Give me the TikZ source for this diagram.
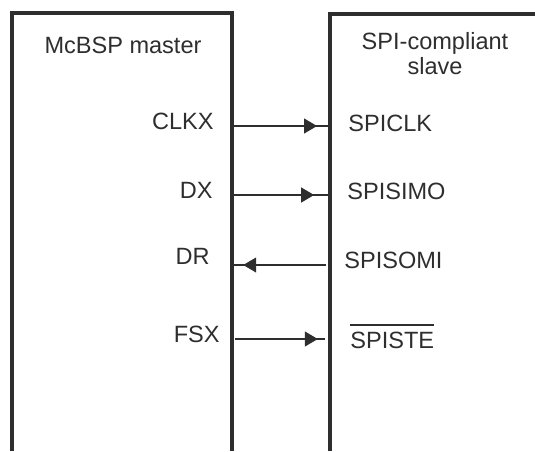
\documentclass[tikz,border=0pt]{standalone}
\usepackage{fontspec}
\setmainfont{Liberation Sans}
\usetikzlibrary{arrows.meta,decorations.markings}

\definecolor{inkgray}{HTML}{2E2E2E}

% text with a bar over it (active-low signal)
\newcommand{\activelow}[1]{\leavevmode\vbox{\hrule height 0.85pt\kern 3.6pt\hbox{#1}}}

\begin{document}
\begin{tikzpicture}[
    x=0.02cm, y=-0.02cm,
    every node/.style={
        font=\fontsize{13.4}{14.2}\selectfont,
        text=inkgray,
        inner sep=0pt,
        align=center
    },
    device/.style={
        draw=inkgray,
        line width=0.068cm,
        line join=miter
    },
    pin/.style={},
    wire/.style={
        draw=inkgray,
        line width=0.65pt
    },
    tipat/.style={
        postaction={decorate},
        decoration={
            markings,
            mark=at position #1 with {\arrow{Triangle[length=0.26cm,width=0.3cm]}}
        }
    }
]

\useasboundingbox (0,0) rectangle (535,451);

% ============================================================
% Devices
% ============================================================

\coordinate (mstBL) at (12,451);
\coordinate (mstTL) at (12,13);
\coordinate (mstTR) at (232,13);
\coordinate (mstBR) at (232,451);

\draw[device] (mstBL) -- (mstTL) -- (mstTR) -- (mstBR);

\coordinate (slvBL) at (330,451);
\coordinate (slvTL) at (330,14);
\coordinate (slvTR) at (536,14);

\draw[device] (slvBL) -- (slvTL) -- (slvTR);

\node (master) at (123,45) {McBSP master};

\node (slave) at (435,53.5) {SPI-compliant\\slave};

% ============================================================
% Pins
% ============================================================

\node[pin, anchor=east] (clkx) at (214,121.5) {CLKX};
\node[pin, anchor=east] (dx)   at (213,190)   {DX};
\node[pin, anchor=east] (dr)   at (210,256.5) {DR};
\node[pin, anchor=east] (fsx)  at (220,334)   {FSX};

\node[pin, anchor=west] (spiclk)  at (348,123)   {SPICLK};
\node[pin, anchor=west] (spisimo) at (347,191.5) {SPISIMO};
\node[pin, anchor=west] (spisomi) at (344,260)   {SPISOMI};
\node[pin, anchor=south west] (spiste) at (350,349) {\activelow{SPISTE}};

% ============================================================
% Signals
% ============================================================

\coordinate (clkxL) at (233,126);
\coordinate (clkxR) at (329,126);

\coordinate (dxL) at (233,195);
\coordinate (dxR) at (329,195);

\coordinate (drL) at (233,265);
\coordinate (drR) at (326,265);

\coordinate (fsxL) at (235,339);
\coordinate (fsxR) at (325,339);

\draw[wire, tipat=0.875] (clkxL) -- (clkxR);

\draw[wire, tipat=0.845] (dxL) -- (dxR);

\draw[wire, tipat=0.89] (drR) -- (drL);

\draw[wire, tipat=0.92] (fsxL) -- (fsxR);

\end{tikzpicture}
\end{document}
